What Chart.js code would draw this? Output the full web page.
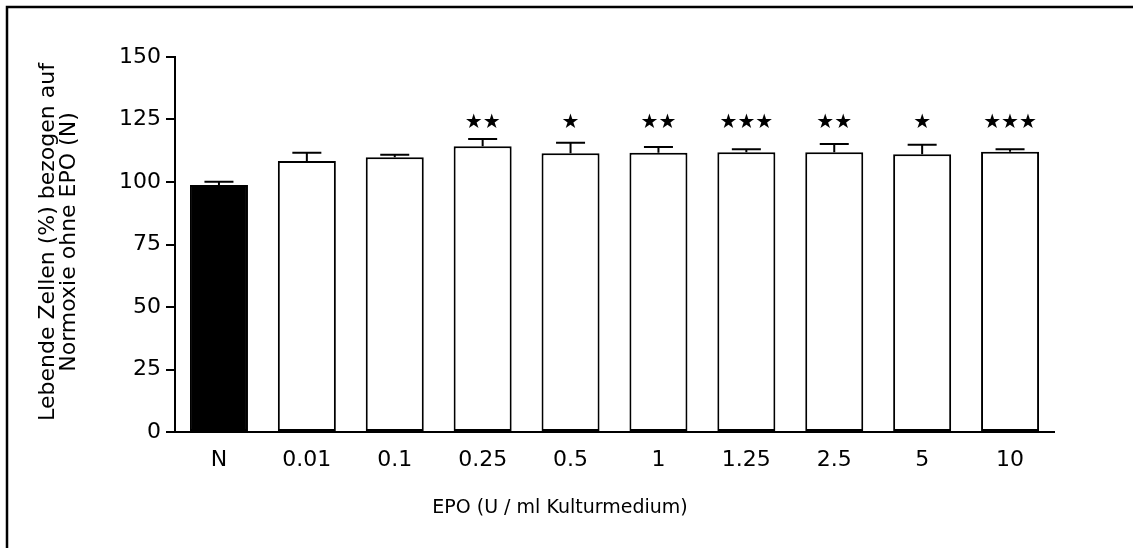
<!DOCTYPE html>
<html>
<head>
<meta charset="utf-8">
<script src="https://cdn.jsdelivr.net/npm/chart.js@4.4.0/dist/chart.umd.min.js"></script>
<style>
  body { margin: 0; background: #fff; }
  #epoChart { display: block; }
</style>
</head>
<body>
<canvas id="epoChart" width="1133" height="548"></canvas>
<script>
// EPO concentrations (U / ml), N = normoxia control without EPO
const categories = ['N', '0.01', '0.1', '0.25', '0.5', '1', '1.25', '2.5', '5', '10'];
// living cells (%) relative to N, mean and SEM
const meanValues = [98.8, 108.4, 109.9, 114.3, 111.5, 111.7, 111.9, 111.9, 111.1, 112.1];
const semValues = [1.3, 3.3, 1.0, 2.9, 4.2, 2.3, 1.2, 3.3, 3.8, 1.0];
// significance marks above each bar
const significance = ['', '', '', '★★', '★', '★★', '★★★', '★★', '★', '★★★'];
const starLevel = 123.5;

const barFill = categories.map((c, i) => i === 0 ? '#000000' : '#ffffff');

// frame around the figure (only left and top edge are visible)
const framePlugin = {
    id: 'frame',
    beforeDraw(chart) {
        const ctx = chart.ctx;
        ctx.save();
        ctx.strokeStyle = '#000';
        ctx.lineWidth = 2.5;
        ctx.beginPath();
        ctx.moveTo(7, 548);
        ctx.lineTo(7, 7);
        ctx.lineTo(1133, 7);
        ctx.stroke();
        ctx.restore();
    }
};

// error bars (upper half only) and significance stars
const errorBarPlugin = {
    id: 'errorBars',
    afterDatasetsDraw(chart) {
        const ctx = chart.ctx;
        const meta = chart.getDatasetMeta(0);
        const yScale = chart.scales.y;
        ctx.save();
        ctx.strokeStyle = '#000';
        ctx.lineWidth = 2;
        meta.data.forEach((bar, i) => {
            const x = bar.x;
            const yTop = yScale.getPixelForValue(meanValues[i]);
            const yErr = yScale.getPixelForValue(meanValues[i] + semValues[i]);
            const half = bar.width / 4;
            ctx.beginPath();
            ctx.moveTo(x, yTop);
            ctx.lineTo(x, yErr);
            ctx.moveTo(x - half, yErr);
            ctx.lineTo(x + half, yErr);
            ctx.stroke();

            if (significance[i]) {
                ctx.fillStyle = '#000';
                ctx.font = '20px "DejaVu Sans"';
                ctx.textAlign = 'center';
                ctx.textBaseline = 'middle';
                ctx.fillText(significance[i], x, yScale.getPixelForValue(starLevel));
            }
        });
        ctx.restore();
    }
};

// axis titles, placed like in the original figure
const axisTitlePlugin = {
    id: 'axisTitles',
    afterDraw(chart) {
        const ctx = chart.ctx;
        ctx.save();
        ctx.fillStyle = '#000';
        ctx.textAlign = 'center';
        ctx.textBaseline = 'middle';
        ctx.font = '19px "DejaVu Sans"';
        ctx.fillText('EPO (U / ml Kulturmedium)', 560, 508);

        ctx.translate(0, 242);
        ctx.rotate(-Math.PI / 2);
        ctx.font = '22px "DejaVu Sans"';
        ctx.textBaseline = 'alphabetic';
        ctx.fillText('Lebende Zellen (%) bezogen auf', 0, 54);
        ctx.fillText('Normoxie ohne EPO (N)', 0, 75);
        ctx.restore();
    }
};

const ctx = document.getElementById('epoChart').getContext('2d');
new Chart(ctx, {
    type: 'bar',
    data: {
        labels: categories,
        datasets: [{
            data: meanValues,
            backgroundColor: barFill,
            borderColor: '#000',
            borderWidth: 2,
            borderSkipped: false,
            barPercentage: 0.66,
            categoryPercentage: 1.0
        }]
    },
    options: {
        responsive: false,
        animation: false,
        devicePixelRatio: 1,
        layout: {
            padding: { left: 0, right: 79, top: 57, bottom: 0 }
        },
        plugins: {
            legend: { display: false },
            tooltip: { enabled: false }
        },
        scales: {
            x: {
                afterFit(scale) { scale.height = 116; },
                grid: { display: false, drawTicks: false },
                border: { display: true, color: '#000', width: 2 },
                ticks: {
                    color: '#000',
                    padding: 15,
                    font: { family: 'DejaVu Sans', size: 22 }
                }
            },
            y: {
                min: 0,
                max: 150,
                afterFit(scale) { scale.width = 175; },
                grid: {
                    display: true,
                    drawOnChartArea: false,
                    drawTicks: true,
                    tickLength: 9,
                    color: '#000',
                    lineWidth: 2
                },
                border: { display: true, color: '#000', width: 2 },
                ticks: {
                    stepSize: 25,
                    color: '#000',
                    padding: 5,
                    font: { family: 'DejaVu Sans', size: 22 }
                }
            }
        }
    },
    plugins: [framePlugin, errorBarPlugin, axisTitlePlugin]
});
</script>
</body>
</html>
